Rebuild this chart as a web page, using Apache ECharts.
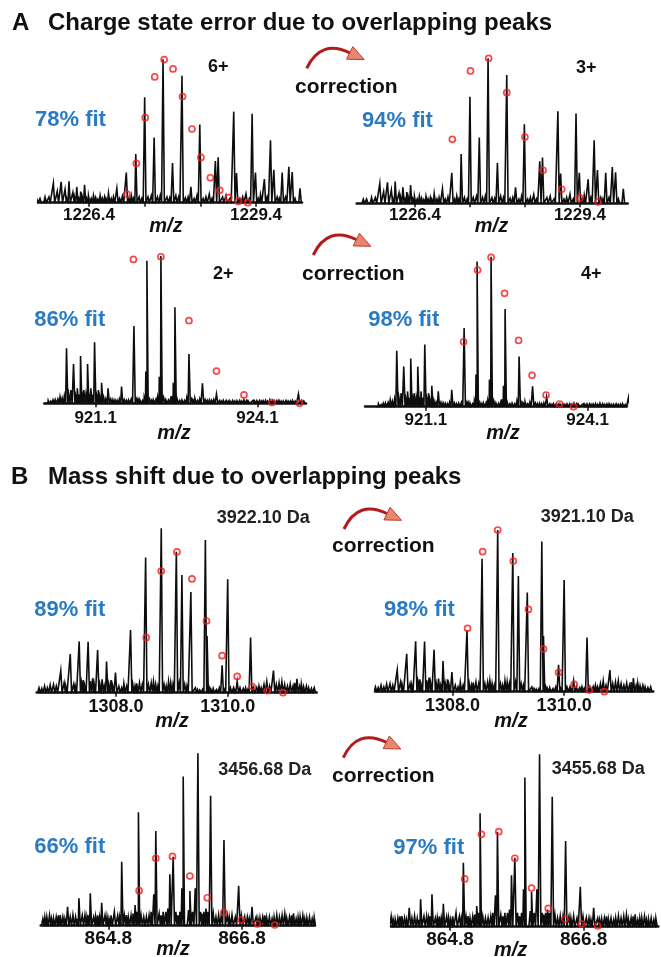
<!DOCTYPE html>
<html><head><meta charset="utf-8">
<script src="https://cdn.jsdelivr.net/npm/echarts@6/dist/echarts.min.js"></script>
<style>html,body{margin:0;padding:0;background:#fff}#c{width:661px;height:957px}</style>
</head><body><div id="c"></div>
<script>
// ---------- DATA (m/z, relative intensity %) ----------
// Experimental spectrum around m/z 1226-1230 (panels A, top row)
const peaks1226 = [[1225.46,2.8],[1225.61,4],[1225.76,13.6],[1225.83,8],[1225.90,14.5],[1225.97,9.3],[1226.04,15],[1226.11,7.2],[1226.18,11],[1226.25,7.8],[1226.32,12.5],[1226.39,5],[1226.48,5],[1226.60,5],[1226.75,6.7],[1226.90,10],[1227.07,21],[1227.24,34],[1227.40,73.5],[1227.57,45.4],[1227.73,100],[1227.90,27.7],[1228.07,88.5],[1228.23,11],[1228.39,54.5],[1228.56,6],[1228.67,29],[1228.72,31.6],[1228.86,5],[1229.00,63.5],[1229.05,20.6],[1229.22,6.2],[1229.33,62],[1229.39,21],[1229.48,5.5],[1229.55,16.5],[1229.66,43.5],[1229.72,23],[1229.87,21],[1229.99,25],[1230.05,21.4],[1230.19,10]];
const noise1226 = [[1225.52,3],[1225.68,4],[1226.00,3],[1226.14,4],[1226.22,3],[1226.28,4],[1226.36,3],[1226.44,3],[1226.52,3.5],[1226.56,2.5],[1226.64,3],[1226.68,4],[1226.71,2.5],[1226.80,3],[1226.84,4],[1226.95,3],[1227.00,4.5],[1227.12,3],[1227.16,5],[1227.20,3],[1227.30,4],[1227.35,3],[1227.46,4],[1227.52,5],[1227.63,4],[1227.68,5],[1227.80,4],[1227.85,3.5],[1227.96,5],[1228.01,4],[1228.13,3.5],[1228.18,4],[1228.29,3],[1228.34,5],[1228.45,3],[1228.50,4],[1228.61,3],[1228.80,4],[1228.93,3],[1229.11,3],[1229.16,4],[1229.28,3],[1229.44,3],[1229.60,4],[1229.78,4],[1229.82,3],[1229.93,4],[1230.10,3]];
const theo6plus = [[1227.08,6],[1227.25,27.4],[1227.41,59.3],[1227.58,87.7],[1227.75,99.8],[1227.91,93.3],[1228.08,74],[1228.25,51.4],[1228.41,31.6],[1228.58,17.4],[1228.75,8.6],[1228.91,3.5],[1229.08,0.9],[1229.25,0]];
const theo3plus = [[1227.08,44.1],[1227.41,91.3],[1227.74,100],[1228.07,76.3],[1228.40,45.7],[1228.73,22.8],[1229.07,9.7],[1229.40,3.7],[1229.73,0.9]];

// Experimental spectrum around m/z 921-924 (panels A, second row)
const peaks921 = [[920.19,1.1],[920.31,2.3],[920.44,4.5],[920.56,37.3],[920.64,9],[920.69,26.7],[920.76,10.2],[920.82,32.1],[920.88,9],[920.95,26.7],[921.01,10.2],[921.08,41.4],[921.15,9],[921.21,14],[921.33,10.2],[921.46,2.3],[921.58,11.3],[921.71,2.3],[921.81,52.5],[921.92,2.3],[922.03,21.5],[922.05,96.8],[922.17,2.3],[922.28,18.1],[922.31,100],[922.45,2.3],[922.54,14],[922.57,65.2],[922.70,2.3],[922.83,33.5],[922.94,3.4],[923.08,13.6],[923.21,2.3],[923.34,6.3],[923.47,1.8],[923.59,1.6],[923.72,1.8],[923.85,2.3],[923.96,1.1],[924.09,1.8],[924.21,1.6],[924.33,2.3],[924.46,1.8],[924.58,1.6],[924.71,1.6],[924.86,6.3]];
const noise921 = [[920.22,2],[920.27,1.5],[920.35,2.5],[920.40,3],[920.48,3.5],[920.52,5],[920.60,6],[920.73,5],[920.79,6],[920.86,5],[920.92,6],[920.98,5],[921.04,6],[921.12,5],[921.18,4],[921.25,4],[921.29,3],[921.38,3],[921.42,2.5],[921.50,2],[921.54,3],[921.63,2.5],[921.67,2],[921.76,3],[921.86,3],[921.89,2.5],[921.97,2],[922.00,4],[922.10,3],[922.14,2],[922.22,3],[922.25,4],[922.36,4],[922.40,2.5],[922.49,3],[922.51,5],[922.61,3],[922.66,2],[922.75,2],[922.79,4],[922.88,3],[922.91,2],[922.99,2],[923.03,3],[923.13,2.5],[923.17,2],[923.25,2],[923.29,2.5],[923.40,2],[923.44,1.5],[923.52,2],[923.56,1.5],[923.64,2],[923.68,1.5],[923.77,2],[923.81,1.5],[923.90,2],[923.93,1.5],[924.02,2],[924.05,1.5],[924.14,2],[924.18,1.5],[924.25,2],[924.29,1.5],[924.38,2],[924.42,1.5],[924.50,2],[924.54,1.5],[924.63,2],[924.67,1.5],[924.75,2],[924.80,1.5],[924.92,2],[924.96,1.5]];
const theo2plus = [[921.80,97.7],[922.31,99.5],[922.83,56.1],[923.34,21.9],[923.85,5.7],[924.37,0.5],[924.88,0]];
const theo4plus = [[921.80,43.3],[922.06,91.1],[922.31,99.6],[922.56,75.6],[922.82,44.2],[923.07,20.9],[923.33,7.8],[923.58,1.8],[923.84,0]];

// Experimental spectrum around m/z 1307-1311 (panels B, top row)
const peaks1308 = [[1306.67,2.6],[1306.82,4.7],[1307.01,13.4],[1307.18,23.5],[1307.34,31.2],[1307.41,7.7],[1307.50,31],[1307.58,8.7],[1307.67,26],[1307.75,8.1],[1307.83,19],[1307.91,7.7],[1307.99,12.2],[1308.14,5.7],[1308.26,38.1],[1308.37,5.7],[1308.53,82.2],[1308.67,6.7],[1308.81,100],[1308.94,6.7],[1309.08,85.8],[1309.18,71.6],[1309.34,61.3],[1309.50,1.6],[1309.60,92.9],[1309.63,34.5],[1309.74,2.6],[1309.90,16.6],[1310.00,69],[1310.10,2.6],[1310.17,6.7],[1310.28,2.6],[1310.41,33.5],[1310.52,3.2],[1310.70,6.7],[1310.82,13.4],[1310.97,6.7],[1311.12,5.3],[1311.24,8.5],[1311.36,3.7],[1311.50,2.6]];
const noise1308 = [[1306.62,3],[1306.72,4],[1306.77,3],[1306.88,5],[1306.93,4],[1307.07,6],[1307.10,4],[1307.24,5],[1307.27,4],[1307.38,6],[1307.44,4],[1307.54,7],[1307.61,5],[1307.71,5],[1307.79,4],[1307.87,5],[1307.94,4],[1308.05,4],[1308.10,3],[1308.19,4],[1308.30,5],[1308.34,4],[1308.42,6],[1308.47,5],[1308.58,5],[1308.63,6],[1308.71,5],[1308.75,4],[1308.86,5],[1308.90,4],[1308.98,6],[1309.02,5],[1309.13,6],[1309.23,5],[1309.27,4],[1309.42,3],[1309.46,2],[1309.55,2],[1309.67,3],[1309.70,2],[1309.80,2],[1309.85,3],[1309.94,2],[1310.05,3],[1310.12,2],[1310.22,3],[1310.32,3],[1310.36,2],[1310.46,3],[1310.56,4],[1310.60,3],[1310.65,5],[1310.75,4],[1310.87,5],[1310.92,6],[1311.02,5],[1311.07,4],[1311.17,4],[1311.20,6],[1311.29,4],[1311.32,5],[1311.41,4],[1311.45,3],[1311.55,3]];
const theo3922 = [[1308.54,33.5],[1308.81,74],[1309.09,85.6],[1309.36,69.2],[1309.62,43.6],[1309.90,22.5],[1310.17,9.9],[1310.44,3.7],[1310.71,1.2],[1310.99,0]];
const theo3921 = [[1308.27,39.2],[1308.54,86.6],[1308.81,100],[1309.09,80.8],[1309.36,50.9],[1309.63,26.4],[1309.90,11.8],[1310.18,4.5],[1310.45,1],[1310.72,0]];

// Experimental spectrum around m/z 864-868 (panels B, bottom row)
const peaks865 = [[863.88,5],[863.98,4.3],[864.08,6.2],[864.19,11],[864.27,6.2],[864.36,15.9],[864.45,6.2],[864.53,18.8],[864.61,5.2],[864.70,13.3],[864.78,5.2],[864.89,8.1],[865.00,37.1],[865.07,6.2],[865.20,12],[865.25,65.8],[865.37,5.2],[865.48,18.2],[865.51,54.9],[865.62,8.1],[865.72,29.8],[865.77,40],[865.87,8.1],[865.90,21.7],[865.92,86.5],[866.02,20.1],[866.10,21.7],[866.14,100],[866.23,8.1],[866.29,8.1],[866.33,75.4],[866.45,6.2],[866.53,49.7],[866.65,6.2],[866.75,23.2],[866.84,5.2],[866.95,11],[867.07,4.6],[867.17,4.6],[867.32,6.2],[867.47,4.3],[867.57,7.2],[867.67,5.2],[867.77,4.6]];
const noise865 = [[863.82,4],[863.85,5],[863.92,6],[863.95,4],[864.02,5],[864.05,6],[864.12,5],[864.15,4],[864.23,5],[864.31,5],[864.33,4],[864.41,6],[864.48,5],[864.50,6],[864.58,5],[864.64,6],[864.67,5],[864.75,6],[864.81,4],[864.84,6],[864.94,6],[864.97,5],[865.04,6],[865.10,5],[865.14,6],[865.17,7],[865.23,8],[865.29,6],[865.33,5],[865.41,6],[865.44,8],[865.56,7],[865.59,6],[865.66,8],[865.69,10],[865.81,8],[865.84,6],[866.00,9],[866.06,8],[866.18,8],[866.20,7],[866.26,10],[866.37,7],[866.41,5],[866.49,6],[866.58,6],[866.61,5],[866.70,5],[866.79,6],[866.88,5],[866.91,4],[867.01,5],[867.04,4],[867.11,5],[867.14,6],[867.21,5],[867.25,4],[867.28,5],[867.36,5],[867.40,6],[867.44,7],[867.51,5],[867.54,6],[867.61,4],[867.64,5],[867.71,6],[867.74,4],[867.81,5],[867.85,4],[867.88,5]];
const theo3456 = [[865.26,20.3],[865.51,39.1],[865.76,40.2],[866.02,28.8],[866.28,16.2],[866.53,7.7],[866.79,3.3],[867.03,1],[867.29,0.4]];
const theo3455 = [[865.02,27.7],[865.27,53.6],[865.53,55.1],[865.77,39.7],[866.02,22.4],[866.27,10.6],[866.52,4.4],[866.77,1.5],[867.01,0.4]];

// Axis ticks / labels
const ticks1226 = [1226.4, 1227.4, 1228.4, 1229.4];
const labels1226 = [1226.4, 1229.4];
const labels921 = [921.1, 924.1];
const labels1308 = [1308.0, 1310.0];
const labels865 = [864.8, 866.8];

// Texts
const fitA1 = '78% fit', fitA2 = '94% fit', fitA3 = '86% fit', fitA4 = '98% fit';
const fitB1 = '89% fit', fitB2 = '98% fit', fitB3 = '66% fit', fitB4 = '97% fit';

// ---------- LAYOUT ----------
const FONT = '"Liberation Sans", Arial, sans-serif';
const panels = [
  {peaks: peaks1226, noise: noise1226, theo: theo6plus, min:1225.484, max:1230.226, left:38, width:264, top:59.3, height:143.4, ticks:ticks1226, labels:labels1226, fs:17, margin:4},
  {peaks: peaks1226, noise: noise1226, theo: theo3plus, min:1225.34, max:1230.27, left:356.7, width:271, top:58.3, height:145, ticks:ticks1226, labels:labels1226, fs:17, margin:4},
  {peaks: peaks921, noise: noise921, theo: theo2plus, min:920.148, max:925.0, left:44.3, width:261.7, top:256, height:147.3, ticks:labels921, labels:labels921, fs:17, margin:7},
  {peaks: peaks921, noise: noise921, theo: theo4plus, min:919.971, max:924.826, left:365, width:261.7, top:256.7, height:150, ticks:labels921, labels:labels921, fs:17, margin:5},
  {peaks: peaks1308, noise: noise1308, theo: theo3922, min:1306.579, max:1311.594, left:36.7, width:280, top:528.3, height:164.4, ticks:labels1308, labels:labels1308, fs:18, margin:5},
  {peaks: peaks1308, noise: noise1308, theo: theo3921, min:1306.612, max:1311.597, left:375, width:278.3, top:530, height:161.7, ticks:labels1308, labels:labels1308, fs:18, margin:5},
  {peaks: peaks865, noise: noise865, theo: theo3456, min:863.788, max:867.892, left:40.7, width:274.3, top:753.3, height:172.4, ticks:labels865, labels:labels865, fs:19, margin:4},
  {peaks: peaks865, noise: noise865, theo: theo3455, min:863.917, max:867.917, left:391, width:267.3, top:754.3, height:172.4, ticks:labels865, labels:labels865, fs:19, margin:4}
];

function profile(peaks, noise, halfW) {
  const all = peaks.concat(noise).slice().sort((a, b) => a[0] - b[0]);
  const out = [];
  all.forEach(p => { out.push([p[0] - halfW, 0], [p[0], p[1]], [p[0] + halfW, 0]); });
  return out;
}

const grid = [], xAxis = [], yAxis = [], series = [];
panels.forEach((p, i) => {
  grid.push({left: p.left, top: p.top, width: p.width, height: p.height});
  xAxis.push({
    type: 'value', gridIndex: i, min: p.min, max: p.max,
    axisLine: {show: true, onZero: false, lineStyle: {color: '#111', width: 2.5}},
    axisTick: {show: true, customValues: p.ticks, length: 4, lineStyle: {color: '#111', width: 1.5}},
    axisLabel: {show: true, customValues: p.labels, margin: p.margin, color: '#111',
      fontFamily: FONT, fontWeight: 'bold', fontSize: p.fs, formatter: v => v.toFixed(1)},
    splitLine: {show: false}
  });
  yAxis.push({type: 'value', gridIndex: i, min: 0, max: 100, show: false});
  const pxPerMz = p.width / (p.max - p.min);
  series.push({
    type: 'line', xAxisIndex: i, yAxisIndex: i, data: profile(p.peaks, p.noise, 1.3 / pxPerMz),
    showSymbol: false, symbol: 'none', lineStyle: {color: '#0d0d0d', width: 1.6, join: 'miter'}, animation: false, z: 2
  });
  series.push({
    type: 'scatter', xAxisIndex: i, yAxisIndex: i, data: p.theo, symbol: 'circle', symbolSize: 6,
    itemStyle: {color: 'rgba(0,0,0,0)', borderColor: '#f51c1c', borderWidth: 1.7}, clip: false, animation: false, z: 5
  });
});

function txt(t, x, y, size, color, extra) {
  return {type: 'text', x: x, y: y, z: 10, style: Object.assign({text: t, fill: color,
    font: 'bold ' + size + 'px ' + FONT, align: 'left', textAlign: 'left', verticalAlign: 'middle', textVerticalAlign: 'middle'}, extra || {})};
}
function mz(x, y) {
  return {type: 'text', x: x, y: y, z: 10, style: {text: 'm/z', fill: '#111', font: 'italic bold 20px ' + FONT,
    align: 'center', textAlign: 'center', verticalAlign: 'middle', textVerticalAlign: 'middle'}};
}
function arrow(x, y) {
  return {type: 'group', x: x, y: y, z: 10, children: [
    {type: 'bezierCurve', shape: {x1: 0, y1: 0, cpx1: 14, cpy1: -30, x2: 44, y2: -15},
      style: {stroke: '#b31b1b', lineWidth: 3, fill: null}},
    {type: 'polygon', shape: {points: [[46.1, -21.7], [57.5, -8.7], [39.9, -9.1]]},
      style: {fill: '#e8876f', stroke: '#c0392b', lineWidth: 1}}
  ]};
}
const BLUE = '#2a7bc2';
const graphic = [
  txt('A', 12, 23.5, 24, '#111'), txt('Charge state error due to overlapping peaks', 48, 23.5, 24, '#111'),
  txt('B', 11, 477.5, 24, '#111'), txt('Mass shift due to overlapping peaks', 48, 477.5, 24, '#111'),
  txt(fitA1, 35, 120, 22, BLUE), txt('6+', 208, 66.7, 18, '#111'),
  txt('correction', 295, 87, 21, '#111'), arrow(306.7, 68.3),
  txt(fitA2, 362, 121, 22, BLUE), txt('3+', 576, 68.3, 18, '#111'),
  txt(fitA3, 34.3, 320, 22, BLUE), txt('2+', 213, 274, 18, '#111'),
  txt('correction', 302, 274, 21, '#111'), arrow(313.3, 255),
  txt(fitA4, 368.3, 320, 22, BLUE), txt('4+', 581, 274, 18, '#111'),
  txt('3922.10 Da', 216.7, 518.3, 18, '#222'), txt(fitB1, 34.3, 610, 22, BLUE),
  txt('correction', 332, 546.7, 21, '#111'), arrow(344, 529),
  txt('3921.10 Da', 540.7, 516.7, 18, '#222'), txt(fitB2, 384, 610, 22, BLUE),
  txt('3456.68 Da', 218.3, 770, 18, '#222'), txt(fitB3, 34.3, 847.3, 22, BLUE),
  txt('correction', 332, 776, 21, '#111'), arrow(343.3, 757.7),
  txt('3455.68 Da', 551.7, 769.3, 18, '#222'), txt(fitB4, 393.3, 847.7, 22, BLUE),
  mz(166, 226), mz(491.5, 226), mz(174, 433), mz(503, 433),
  mz(172, 721), mz(511, 721), mz(173, 949), mz(510.7, 950)
];

const chart = echarts.init(document.getElementById('c'), null, {renderer: 'canvas'});
chart.setOption({animation: false, backgroundColor: '#fff', grid, xAxis, yAxis, series, graphic});
</script></body></html>
